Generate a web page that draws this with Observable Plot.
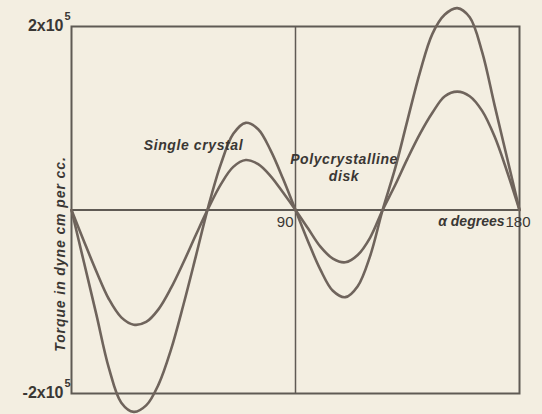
<!DOCTYPE html>
<html>
<head>
<meta charset="utf-8">
<script src="https://cdn.jsdelivr.net/npm/d3@7"></script>
<script src="https://cdn.jsdelivr.net/npm/@observablehq/plot@0.6"></script>
<style>
  html, body { margin: 0; padding: 0; background: #f3eee1; }
</style>
</head>
<body>
<script>
// Angle α in degrees
const angles = [0,5,10,15,20,25,30,35,40,45,50,55,60,65,70,75,80,85,90,
                95,100,105,110,115,120,125,130,135,140,145,150,155,160,165,170,175,180];
// Torque, units of 10^5 dyne cm per cc
const singleCrystal = [0,-0.57,-1.14,-1.72,-2.1,-2.2,-2.13,-1.9,-1.52,-1.03,-0.5,0.04,
                       0.5,0.83,0.95,0.88,0.65,0.34,0,
                       -0.34,-0.65,-0.88,-0.95,-0.83,-0.5,0,
                       0.45,0.98,1.5,1.92,2.13,2.2,2.1,1.72,1.14,0.57,0];
const polyDisk = [0,-0.34,-0.67,-0.97,-1.17,-1.25,-1.22,-1.08,-0.85,-0.57,-0.27,0.02,
                  0.28,0.47,0.545,0.5,0.37,0.19,0,
                  -0.2,-0.4,-0.53,-0.57,-0.49,-0.3,0,
                  0.27,0.56,0.83,1.06,1.24,1.29,1.24,1.08,0.8,0.42,0];
const yTickValues = [2, -2];
const yTickLabels = ["2x10", "-2x10"];
const yTickExponent = "5";
const yLabel = "Torque in dyne cm per cc.";
const curveLabels = [
  {x: 49, y: 0.71, text: "Single crystal"},
  {x: 109.5, y: 0.47, text: "Polycrystalline\ndisk"}
];

const rows = [];
angles.forEach((a, i) => {
  rows.push({alpha: a, torque: singleCrystal[i], series: "Single crystal"});
  rows.push({alpha: a, torque: polyDisk[i], series: "Polycrystalline disk"});
});

const ink = "#5f5a54";
const curveInk = "#6f645c";
const textInk = "#3a3734";
const font = "'Liberation Sans', Arial, sans-serif";

const chart = Plot.plot({
  width: 542,
  height: 414,
  marginLeft: 71,
  marginRight: 23,
  marginTop: 26,
  marginBottom: 21,
  x: {domain: [0, 180], axis: null},
  y: {domain: [-2, 2], axis: null},
  style: {background: "#f3eee1", fontFamily: font, overflow: "visible"},
  marks: [
    Plot.frame({stroke: ink, strokeWidth: 2}),
    Plot.ruleY([0], {stroke: ink, strokeWidth: 2}),
    Plot.ruleX([90], {stroke: ink, strokeWidth: 1.5}),
    Plot.line(rows, {x: "alpha", y: "torque", z: "series", stroke: curveInk,
                     strokeWidth: 2.6, curve: "catmull-rom"}),
    Plot.text(yTickValues, {x: 0, y: d => d, text: (d, i) => yTickLabels[i],
                            textAnchor: "end", dx: -8, dy: -1, fontSize: 16,
                            fontWeight: "bold", fill: textInk}),
    Plot.text(yTickValues, {x: 0, y: d => d, text: () => yTickExponent,
                            textAnchor: "end", dx: -1, dy: -10, fontSize: 11,
                            fontWeight: "bold", fill: textInk}),
    Plot.text([yLabel], {x: 0, y: -0.48, text: d => d, rotate: -90, dx: -11,
                         fontSize: 14, fontStyle: "italic", fontWeight: "bold", fill: textInk}),
    Plot.text(["90"], {x: 90, y: 0, text: d => d, textAnchor: "end", dx: -2, dy: 12,
                       fontSize: 15, fill: textInk}),
    Plot.text(["\u03b1 degrees"], {x: 180, y: 0, text: d => d, textAnchor: "end", dx: -15, dy: 12,
                       fontSize: 14, fontStyle: "italic", fontWeight: "bold", fill: textInk}),
    Plot.text(["180"], {x: 180, y: 0, text: d => d, textAnchor: "start", dx: -14, dy: 12,
                       fontSize: 15, fill: textInk}),
    Plot.text(curveLabels, {x: "x", y: "y", text: "text", fontSize: 14, lineHeight: 1.2,
                            fontStyle: "italic", fontWeight: "bold", fill: textInk})
  ]
});
d3.select(chart).selectAll("text")
  .filter(function() { return this.textContent.startsWith("Torque"); })
  .attr("letter-spacing", "0.9px");
d3.select(chart).selectAll("text")
  .filter(function() { return /crystal|Poly/.test(this.textContent); })
  .attr("letter-spacing", "0.6px");
document.body.appendChild(chart);
</script>
</body>
</html>
